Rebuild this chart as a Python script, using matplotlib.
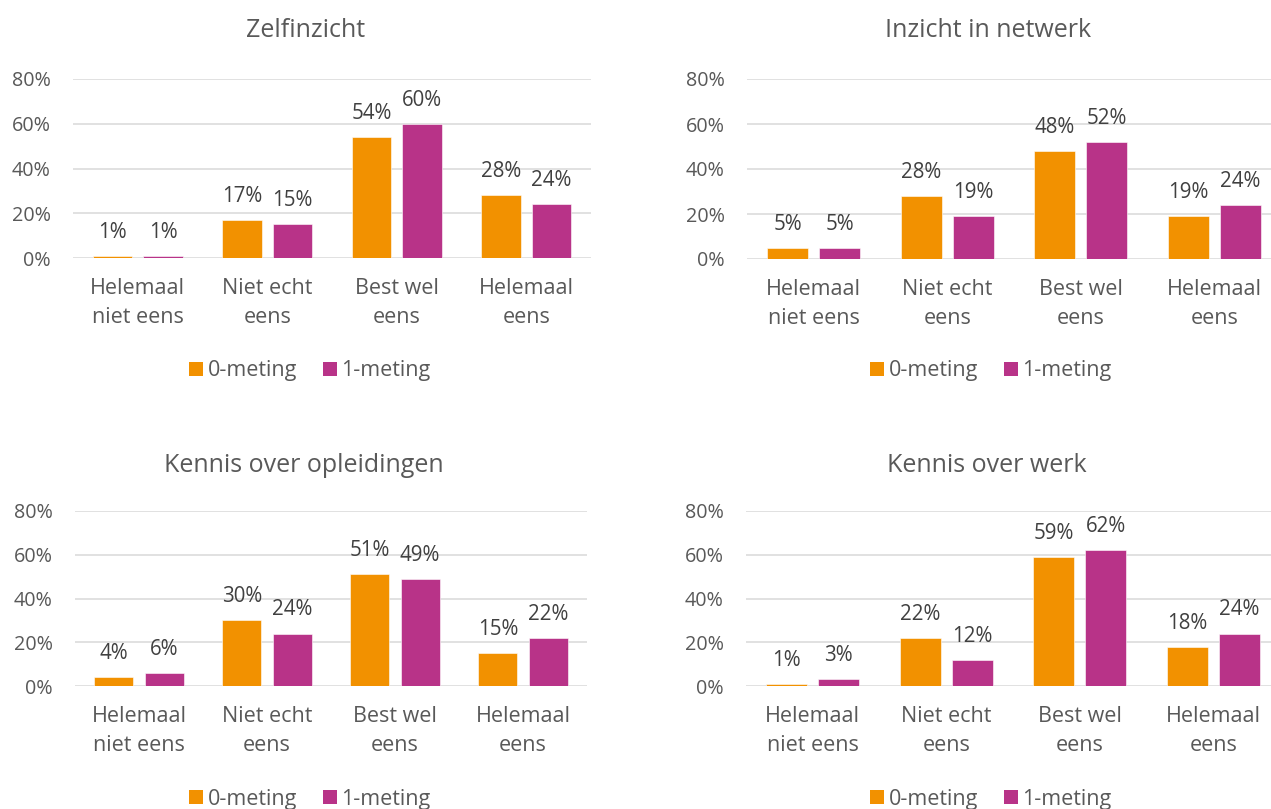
import matplotlib
matplotlib.use("Agg")
import matplotlib.pyplot as plt
from matplotlib.patches import Patch
import numpy as np

plt.rcParams['font.family'] = ['Open Sans', 'DejaVu Sans']

categories = ["Helemaal\nniet eens", "Niet echt\neens", "Best wel\neens", "Helemaal\neens"]
series_names = ["0-meting", "1-meting"]
titles = ["Zelfinzicht", "Inzicht in netwerk", "Kennis over opleidingen", "Kennis over werk"]

zelfinzicht_0 = [1, 17, 54, 28]
zelfinzicht_1 = [1, 15, 60, 24]
netwerk_0 = [5, 28, 48, 19]
netwerk_1 = [5, 19, 52, 24]
opleidingen_0 = [4, 30, 51, 15]
opleidingen_1 = [6, 24, 49, 22]
werk_0 = [1, 22, 59, 18]
werk_1 = [3, 12, 62, 24]

yticks = [0, 20, 40, 60, 80]
ytick_labels = ["0%", "20%", "40%", "60%", "80%"]

data = [(zelfinzicht_0, zelfinzicht_1), (netwerk_0, netwerk_1),
        (opleidingen_0, opleidingen_1), (werk_0, werk_1)]

C0 = "#F29100"
C1 = "#B83388"
TXT = "#595959"
GRID = "#D9D9D9"

W, H = 1271, 809
fig = plt.figure(figsize=(W / 100, H / 100), dpi=100)

# pixel boxes: (x_left, x_right, y_top(80%), y_bottom(0%))
boxes = [(73, 591, 79, 258), (747, 1281, 79, 259), (75, 587, 511, 686), (746, 1280, 511, 686)]
title_pos = [(306, 37), (988, 37), (304, 472), (987, 472)]
legend_pos = [(310, 371), (991, 371), (310, 799), (991, 799)]

FS_Y = 14.2
FS_LAB = 14.8
FS_X = 15.5
FS_T = 18
bw = 0.305
off = bw / 2 + 0.043
x = np.arange(len(categories))

for i, ((s0, s1), (xl, xr, yt, yb)) in enumerate(zip(data, boxes)):
    ax = fig.add_axes([xl / W, (H - yb) / H, (xr - xl) / W, (yb - yt) / H])
    ax.set_xlim(-0.5, len(categories) - 0.5)
    ax.set_ylim(0, 80)
    ax.set_yticks(yticks)
    ax.set_yticklabels(ytick_labels)
    ax.yaxis.grid(True, color=GRID, linewidth=1.1)
    ax.set_axisbelow(True)
    for sp in ax.spines.values():
        sp.set_visible(False)
    ax.tick_params(axis='both', length=0, labelcolor=TXT)
    ax.tick_params(axis='y', pad=16, labelsize=FS_Y)
    ax.tick_params(axis='x', pad=14.5, labelsize=FS_X)
    ax.set_xticks(x)
    ax.set_xticklabels(categories, linespacing=1.48)
    b0 = ax.bar(x - off, s0, width=bw, color=C0, edgecolor="white", linewidth=0.4)
    b1 = ax.bar(x + off, s1, width=bw, color=C1, edgecolor="white", linewidth=0.4)
    for bars, vals in ((b0, s0), (b1, s1)):
        for rect, v in zip(bars, vals):
            ax.annotate(f"{v}%", (rect.get_x() + rect.get_width() / 2, rect.get_height()),
                        xytext=(0, 13), textcoords="offset points", ha="center",
                        va="baseline", fontsize=FS_LAB, color="#404040")
    tx, ty = title_pos[i]
    fig.text(tx / W, (H - ty) / H, titles[i], ha="center", va="baseline", fontsize=FS_T, color=TXT)
    lx, ly = legend_pos[i]
    handles = [Patch(facecolor=C0, edgecolor="none"), Patch(facecolor=C1, edgecolor="none")]
    fig.legend(handles, series_names, loc="center", bbox_to_anchor=(lx / W, (H - ly) / H),
               ncol=2, frameon=False, fontsize=FS_X, labelcolor=TXT,
               handlelength=0.65, handleheight=0.65, handletextpad=0.2, columnspacing=1.2,
               borderpad=0, borderaxespad=0)

fig.savefig("out.png", dpi=100)
